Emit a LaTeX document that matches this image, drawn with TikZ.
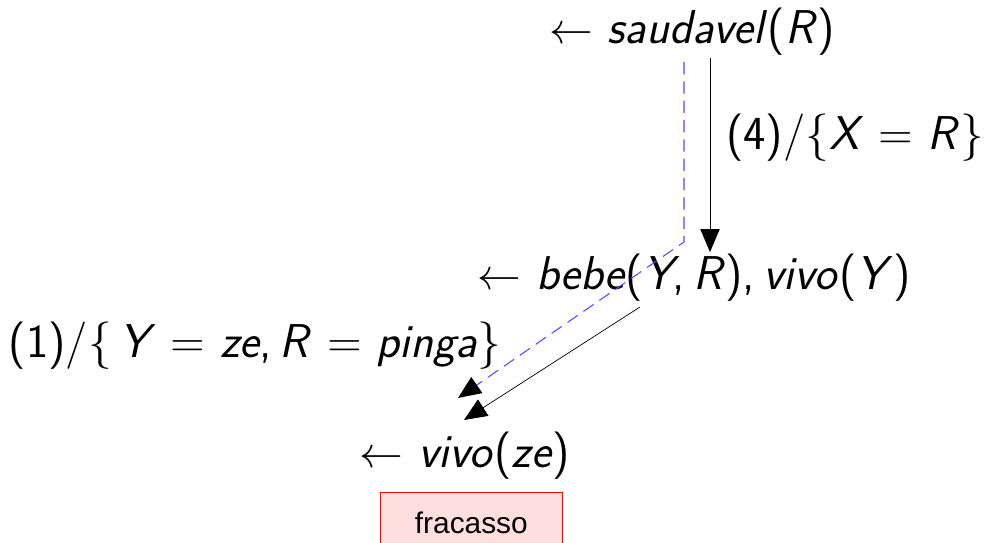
\documentclass[tikz,border=0pt]{standalone}
\usepackage{fontspec}
\newfontfamily\boxfont{Liberation Sans}
\usetikzlibrary{arrows.meta}
\tikzset{
  goal/.style={font=\sffamily\fontsize{27}{32}\selectfont, inner sep=0pt, anchor=base},
  lbl/.style={font=\sffamily\fontsize{27}{32}\selectfont, inner sep=0pt, anchor=base},
  deriv/.style={-{Triangle[length=13pt,width=11pt]}, thin},
  trace/.style={-{Triangle[length=13pt,width=11pt,black]}, blue!70, semithick, dash pattern=on 7pt off 4pt},
  failbox/.style={draw=red, fill=red!13, thin, minimum width=182*0.02cm, minimum height=60*0.02cm,
    font=\boxfont\fontsize{17}{20}\selectfont, anchor=north west}
}
\newcommand{\iw}[1]{\textit{#1}}
\begin{document}
\begin{tikzpicture}[x=0.02cm,y=-0.02cm]
  \useasboundingbox (0,0) rectangle (990,543);

  \node[goal] (sauda) at (692,44) {$\leftarrow$ \iw{saudavel}(\iw{R})};
  \node[goal] (bebe) at (694,290) {$\leftarrow$ \iw{bebe}(\iw{Y},\,\iw{R}),\,\iw{vivo}(\iw{Y})};
  \node[goal] (vivo) at (465,467) {$\leftarrow$ \iw{vivo}(\iw{ze})};

  \node[lbl] (lbl4) at (855,150) {(4)/\{\iw{X} = \iw{R}\}};
  \node[lbl] (lbl1) at (255,358) {(1)/\{\,\iw{Y} = \iw{ze},\,\iw{R} = \iw{pinga}\}};

  \node[failbox] (fracasso) at (380,492) {fracasso};

  % solid derivation steps
  \coordinate (s1) at (710,58);
  \coordinate (s2) at (710,252);
  \coordinate (s3) at (640,307);
  \coordinate (s4) at (464,420);
  \draw[deriv] (s1) -- (s2);
  \draw[deriv] (s3) -- (s4);

  % dashed search trace
  \coordinate (t1) at (684,62);
  \coordinate (t2) at (684,242);
  \coordinate (t3) at (458,398);
  \draw[trace] (t1) -- (t2) -- (t3);
\end{tikzpicture}
\end{document}
